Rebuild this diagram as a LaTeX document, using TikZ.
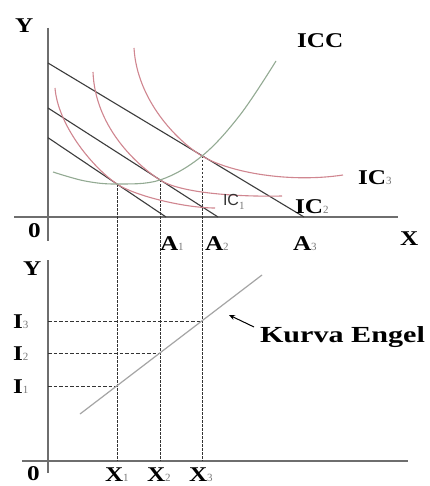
\documentclass[tikz,border=0pt]{standalone}
\usepackage{fontspec}
\setmainfont{Liberation Serif}
\newfontfamily\sansf{Liberation Sans}
\usepackage{graphicx}
\usetikzlibrary{arrows.meta}
\definecolor{axisgray}{HTML}{6E6E6E}
\definecolor{icpink}{HTML}{D08690}
\definecolor{iccgreen}{HTML}{93AA93}
\definecolor{budget}{HTML}{3C3C3C}
\definecolor{engelgray}{HTML}{A5A5A5}
\definecolor{subgray}{HTML}{7A7A7A}
\definecolor{dashcol}{HTML}{333333}
\newcommand{\bl}[1]{{\fontsize{21}{21}\selectfont\bfseries\scalebox{1.2}[1]{#1}}}
\newcommand{\sbs}[1]{{\fontsize{11}{11}\selectfont\mdseries\color{subgray}#1}}
\begin{document}
\begin{tikzpicture}[x=1pt,y=-1pt,
  axis/.style={draw=axisgray,line width=1.7pt},
  budgetline/.style={draw=budget,line width=1.1pt},
  ic/.style={draw=icpink,line width=1.1pt},
  iccurve/.style={draw=iccgreen,line width=1.1pt},
  engel/.style={draw=engelgray,line width=1.2pt},
  vdash/.style={draw=dashcol,line width=0.9pt,dash pattern=on 2.5pt off 1.5pt},
  hdash/.style={draw=dashcol,line width=0.9pt,dash pattern=on 3.5pt off 2pt},
  lbl/.style={anchor=base west,inner sep=0pt,outer sep=0pt},
  pointer/.style={draw=black,line width=1pt,-{Stealth[length=6pt,width=5pt]}}]
\useasboundingbox[fill=white] (0,0) rectangle (429,486);

% axes
\draw[axis] (48,28) -- (48,241);
\draw[axis] (14,217) -- (398,217);
\draw[axis] (48,260) -- (48,473);
\draw[axis] (22,461) -- (408,461);

% tangency points and Engel points
\coordinate (T1) at (117,184);
\coordinate (T2) at (160,180);
\coordinate (T3) at (202,156);
\coordinate (B1) at (117,461);
\coordinate (B2) at (160,461);
\coordinate (B3) at (202,461);
\coordinate (E1) at (117,386);
\coordinate (E2) at (160,353);
\coordinate (E3) at (202,321);
\coordinate (Y1) at (48,386);
\coordinate (Y2) at (48,353);
\coordinate (Y3) at (48,321);

% dashed guides
\draw[vdash] (T1) -- (B1);
\draw[vdash] (T2) -- (B2);
\draw[vdash] (T3) -- (B3);
\draw[hdash] (Y1) -- (E1);
\draw[hdash] (Y2) -- (E2);
\draw[hdash] (Y3) -- (E3);

% budget lines
\draw[budgetline] (48,137.7) -- (166,217);
\draw[budgetline] (48,108) -- (218,217);
\draw[budgetline] (48,63) -- (304,217);

% indifference curves
\draw[ic] (55,88) .. controls (58,125) and (92,167) .. (T1) .. controls (135,196) and (185,208) .. (215,208);
\draw[ic] (93,72) .. controls (95,125) and (134,163) .. (T2) .. controls (180,192.8) and (235,197) .. (282,196);
\draw[ic] (134,48) .. controls (137,100) and (177,141) .. (T3) .. controls (230,172.8) and (290,183) .. (343,175);

% income consumption curve
\draw[iccurve] plot[smooth,tension=0.6] coordinates {(53,172) (85,181) (117,184) (160,180) (202,156) (240,115) (276,61)};

% Engel curve
\coordinate (EA) at (80,414);
\coordinate (EB) at (262,275);
\draw[engel] (EA) -- (EB);

% labels top
\node[lbl] (ytop) at (15,33) {\bl{Y}};
\node[lbl] (otop) at (28,237) {\bl{0}};
\node[lbl] (xtop) at (400,245) {\bl{X}};
\node[lbl] (a1) at (160,250) {\bl{A}\sbs{1}};
\node[lbl] (a2) at (205,250) {\bl{A}\sbs{2}};
\node[lbl] (a3) at (293,250) {\bl{A}\sbs{3}};
\node[lbl] (icc) at (297,48) {\bl{ICC}};
\node[lbl] (ic3) at (358,185) {\bl{IC}\sbs{3}};
\node[lbl] (ic2) at (295,213) {\bl{IC}\sbs{2}};
\node[lbl] (ic1) at (223,205) {{\sansf\fontsize{16}{16}\selectfont\color{dashcol}IC}\raisebox{-4pt}{\sbs{1}}};

% labels bottom
\node[lbl] (ybot) at (23,275) {\bl{Y}};
\node[lbl] (obot) at (27,480) {\bl{0}};
\node[lbl] (x1) at (105,481) {\bl{X}\sbs{1}};
\node[lbl] (x2) at (147,481) {\bl{X}\sbs{2}};
\node[lbl] (x3) at (189,481) {\bl{X}\sbs{3}};
\node[lbl] (i3) at (13,328) {\bl{I}\sbs{3}};
\node[lbl] (i2) at (13,360) {\bl{I}\sbs{2}};
\node[lbl] (i1) at (13,393) {\bl{I}\sbs{1}};
\node[lbl] (ke) at (260,342) {{\fontsize{23}{23}\selectfont\bfseries\scalebox{1.31}[1]{Kurva Engel}}};
\coordinate (arrS) at (254,327);
\coordinate (arrE) at (229,315);
\draw[pointer] (arrS) -- (arrE);
\end{tikzpicture}
\end{document}
